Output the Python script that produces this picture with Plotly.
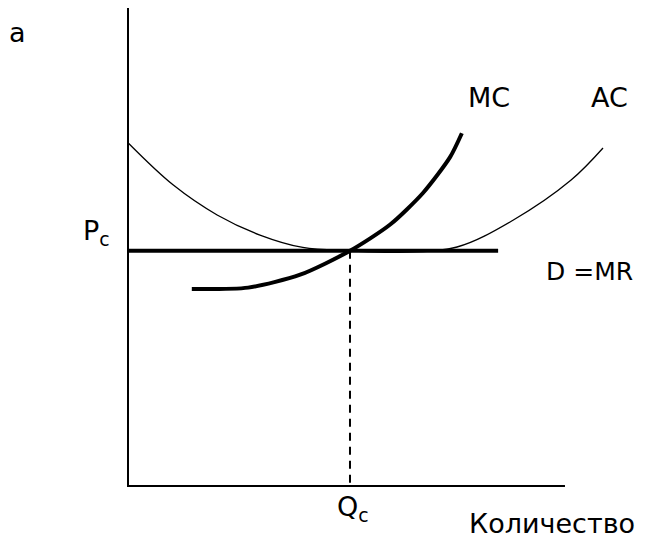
import plotly.graph_objects as go

# Величины на осях (условные единицы: количество 0..10, цена 0..10)
axis_q = [0, 0, 10]
axis_p = [10, 0, 0]

Qc = 5.08
Pc = 4.92
D_end = 8.47

ac_q = [0.0, 1.03, 2.04, 3.02, 4.00, 5.08, 6.20, 7.53, 8.81, 10.14, 10.87]
ac_p = [7.18, 6.30, 5.67, 5.25, 4.99, 4.92, 4.89, 5.00, 5.56, 6.40, 7.07]

mc_q = [1.46, 2.75, 3.94, 5.08, 6.00, 6.75, 7.37, 7.64]
mc_p = [4.12, 4.15, 4.42, 4.92, 5.47, 6.13, 6.88, 7.38]

FONT = "DejaVu Sans, Arial, sans-serif"

fig = go.Figure()

# оси
fig.add_trace(go.Scatter(x=axis_q, y=axis_p, mode="lines",
                         line=dict(color="black", width=2)))
# AC
fig.add_trace(go.Scatter(x=ac_q, y=ac_p, mode="lines", line_shape="spline",
                         line=dict(color="black", width=1.3)))
# D = MR
fig.add_trace(go.Scatter(x=[0, D_end], y=[Pc, Pc], mode="lines",
                         line=dict(color="black", width=4)))
# MC
fig.add_trace(go.Scatter(x=mc_q, y=mc_p, mode="lines", line_shape="spline",
                         line=dict(color="black", width=4, smoothing=0.7)))
# пунктир к Qc
fig.add_trace(go.Scatter(x=[Qc, Qc], y=[Pc, 0], mode="lines",
                         line=dict(color="black", width=2, dash="8px,6px")))

labels = [
    ("a", -2.52, 9.48, 27),
    ("P<sub>c</sub>", -0.73, 5.31, 27),
    ("MC", 8.26, 8.12, 27),
    ("AC", 11.03, 8.12, 27),
    ("D =MR", 10.55, 4.48, 25),
    ("Q<sub>c</sub>", 5.15, -0.48, 27),
    ("Количество", 9.70, -0.79, 27),
]
for txt, x, y, size in labels:
    fig.add_annotation(x=x, y=y, text=txt, showarrow=False,
                       font=dict(family=FONT, size=size, color="black"))

# страница имеет отступ 8px, поэтому фигура чуть меньше окна
fig.update_layout(
    width=638, height=531,
    margin=dict(l=0, r=0, t=0, b=0),
    paper_bgcolor="white", plot_bgcolor="white",
    showlegend=False,
    xaxis=dict(range=[-2.746, 11.854], visible=False, fixedrange=True),
    yaxis=dict(range=[-1.109, 10.0], visible=False, fixedrange=True),
)

fig.write_html("out.html")
